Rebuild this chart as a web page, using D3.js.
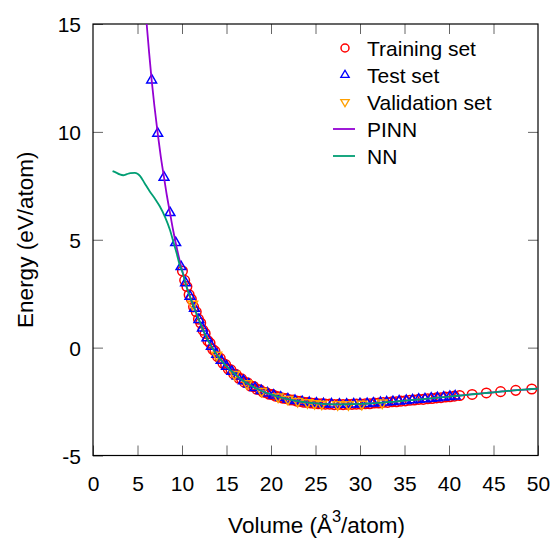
<!DOCTYPE html>
<html>
<head>
<meta charset="utf-8">
<script src="https://cdn.jsdelivr.net/npm/d3@7"></script>
<style>
  html, body { margin: 0; padding: 0; background: #fff; }
  svg { display: block; font-family: "Liberation Sans", Arial, Helvetica, sans-serif; }
</style>
</head>
<body>
<svg id="chart" width="552" height="538"></svg>
<script>
// ---------------- data ----------------
const xTicks = [0, 5, 10, 15, 20, 25, 30, 35, 40, 45, 50];
const yTicks = [-5, 0, 5, 10, 15];

const trainV = [10.05, 10.3, 10.55, 10.8, 11.05, 11.3, 11.6, 11.85, 12.1, 12.35, 12.6, 12.9, 13.15, 13.45, 13.7, 14.0, 14.3, 14.6, 14.9, 15.2, 15.5, 15.8, 16.1, 16.4, 16.7, 17.0, 17.35, 17.7, 18.05, 18.4, 18.75, 19.1, 19.45, 19.8, 20.15, 20.5, 20.9, 21.3, 21.7, 22.1, 22.5, 22.9, 23.3, 23.7, 24.1, 24.5, 24.9, 25.3, 25.7, 26.1, 26.6, 27.1, 27.6, 28.1, 28.6, 29.1, 29.6, 30.1, 30.6, 31.1, 31.6, 32.1, 32.6, 33.1, 33.6, 34.1, 34.6, 35.1, 35.6, 36.1, 36.6, 37.1, 37.6, 38.1, 38.6, 39.1, 39.6, 40.1, 40.6, 41.2, 42.6, 44.2, 45.8, 47.5, 49.3];
const trainE = [3.55, 3.12, 2.83, 2.45, 2.24, 1.89, 1.66, 1.32, 1.14, 0.81, 0.66, 0.32, 0.21, -0.08, -0.16, -0.42, -0.50, -0.73, -0.79, -0.99, -1.03, -1.22, -1.25, -1.42, -1.45, -1.60, -1.63, -1.78, -1.80, -1.93, -1.95, -2.06, -2.08, -2.16, -2.18, -2.25, -2.28, -2.34, -2.36, -2.42, -2.43, -2.48, -2.49, -2.53, -2.54, -2.57, -2.58, -2.60, -2.60, -2.62, -2.62, -2.64, -2.63, -2.64, -2.63, -2.63, -2.62, -2.62, -2.60, -2.60, -2.57, -2.57, -2.54, -2.54, -2.51, -2.51, -2.48, -2.47, -2.44, -2.43, -2.40, -2.40, -2.37, -2.36, -2.33, -2.32, -2.29, -2.28, -2.25, -2.22, -2.17, -2.10, -2.04, -1.98, -1.92];

const testV = [6.59, 7.27, 7.98, 8.65, 9.29, 9.89, 10.4, 10.9, 11.4, 11.9, 12.3, 12.8, 13.3, 13.9, 14.4, 15.0, 15.6, 16.2, 16.9, 17.5, 18.2, 18.9, 19.6, 20.3, 21.1, 21.9, 22.7, 23.5, 24.3, 25.1, 25.9, 26.8, 27.7, 28.5, 29.3, 30.0, 30.8, 31.5, 32.3, 33.0, 33.7, 34.4, 35.2, 35.9, 36.6, 37.3, 38.0, 38.7, 39.4, 40.1, 40.7];
const testE = [12.4, 9.93, 7.89, 6.25, 4.86, 3.75, 3.00, 2.37, 1.82, 1.30, 0.90, 0.45, 0.06, -0.32, -0.59, -0.87, -1.11, -1.32, -1.54, -1.70, -1.86, -2.00, -2.11, -2.21, -2.31, -2.39, -2.46, -2.51, -2.55, -2.58, -2.61, -2.62, -2.63, -2.63, -2.62, -2.61, -2.60, -2.58, -2.55, -2.53, -2.51, -2.48, -2.46, -2.43, -2.40, -2.38, -2.35, -2.33, -2.30, -2.27, -2.25];

const valV = [11.2, 13.9, 15.9, 17.3, 18.95, 20.8, 21.9, 23.0, 24.1, 24.9, 25.7, 27.5, 28.7, 30.2, 32.5];
const valE = [2.02, -0.34, -1.24, -1.66, -2.02, -2.28, -2.39, -2.49, -2.55, -2.59, -2.61, -2.64, -2.64, -2.62, -2.56];

const pinnV = [5.9, 6.03, 6.3, 6.59, 6.9, 7.27, 7.6, 7.98, 8.3, 8.65, 9.0, 9.29, 9.6, 9.96, 10.5, 11.0, 11.5, 12.0, 12.5, 13.0, 13.5, 14.0, 14.5, 15.0, 15.5, 16.0, 16.5, 17.0, 17.5, 18.0, 18.5, 19.0, 19.5, 20.0, 20.5, 21.0, 21.5, 22.0, 22.5, 23.0, 23.5, 24.0, 24.5, 25.0, 25.5, 26.0, 26.5, 27.0, 27.5, 28.0, 29.0, 30.0, 31.0, 32.0, 33.0, 34.0, 35.0, 36.0, 37.0, 38.0, 39.0, 40.0, 41.0, 42.0, 43.0, 44.0, 45.0, 46.0, 47.0, 48.0, 49.0, 50.0];
const pinnE = [15.7, 15.0, 13.7, 12.4, 11.2, 9.93, 8.9, 7.89, 7.05, 6.25, 5.45, 4.86, 4.27, 3.68, 2.85, 2.25, 1.72, 1.20, 0.70, 0.28, -0.08, -0.38, -0.64, -0.87, -1.07, -1.25, -1.42, -1.57, -1.70, -1.82, -1.92, -2.02, -2.10, -2.17, -2.24, -2.30, -2.35, -2.40, -2.44, -2.48, -2.51, -2.54, -2.56, -2.58, -2.60, -2.61, -2.62, -2.63, -2.63, -2.63, -2.62, -2.61, -2.59, -2.56, -2.53, -2.50, -2.46, -2.42, -2.39, -2.35, -2.31, -2.27, -2.23, -2.19, -2.15, -2.11, -2.07, -2.03, -1.99, -1.96, -1.93, -1.90];

const nnV = [2.2, 2.6, 3.0, 3.4, 3.8, 4.2, 4.7, 5.0, 5.3, 5.8, 6.4, 7.0, 7.5, 8.1, 8.65, 9.0, 9.4, 9.78, 10.0, 10.5, 11.0, 11.5, 12.0, 12.5, 13.0, 13.5, 14.0, 14.5, 15.0, 15.5, 16.0, 16.5, 17.0, 17.5, 18.0, 18.5, 19.0, 19.5, 20.0, 20.5, 21.0, 21.5, 22.0, 22.5, 23.0, 23.5, 24.0, 24.5, 25.0, 25.5, 26.0, 26.5, 27.0, 27.5, 28.0, 29.0, 30.0, 31.0, 32.0, 33.0, 34.0, 35.0, 36.0, 37.0, 38.0, 39.0, 40.0, 41.0, 42.0, 43.0, 44.0, 45.0, 46.0, 47.0, 48.0, 49.0, 50.0];
const nnE = [8.18, 8.11, 8.03, 7.99, 8.04, 8.09, 8.10, 8.06, 7.95, 7.62, 7.23, 6.88, 6.55, 6.05, 5.45, 4.95, 4.37, 3.78, 3.56, 2.83, 2.24, 1.71, 1.19, 0.70, 0.28, -0.08, -0.38, -0.64, -0.87, -1.07, -1.25, -1.42, -1.57, -1.70, -1.82, -1.92, -2.02, -2.10, -2.17, -2.24, -2.30, -2.35, -2.40, -2.44, -2.48, -2.51, -2.54, -2.56, -2.58, -2.60, -2.61, -2.62, -2.63, -2.63, -2.63, -2.62, -2.61, -2.59, -2.56, -2.53, -2.50, -2.46, -2.42, -2.39, -2.35, -2.31, -2.27, -2.23, -2.19, -2.15, -2.11, -2.07, -2.03, -1.99, -1.96, -1.93, -1.90];

const legendLabels = ["Training set", "Test set", "Validation set", "PINN", "NN"];

// ---------------- layout ----------------
const colors = { train: "#ff0000", test: "#0000ff", val: "#ffa000", pinn: "#9400d3", nn: "#009e73" };
const L = 93, R = 538, T = 24, B = 455.5;
const x = d3.scaleLinear().domain([0, 50]).range([L, R]);
const y = d3.scaleLinear().domain([-5, 15]).range([B, T]);

const svg = d3.select("#chart");
const FS = 21;
const fmt = d => String(d);

svg.append("defs").append("clipPath").attr("id", "plotclip")
  .append("rect").attr("x", L).attr("y", T).attr("width", R - L).attr("height", B - T);

// axes
function styleAxis(g) {
  g.select(".domain").remove();
  g.selectAll(".tick line").attr("stroke", "#666").attr("stroke-width", 1);
  g.selectAll(".tick text").attr("fill", "#000").attr("font-size", FS)
    .attr("font-family", "'Liberation Sans', Arial, Helvetica, sans-serif");
}
svg.append("g").attr("transform", `translate(0,${B})`)
  .call(d3.axisBottom(x).tickValues(xTicks).tickSize(-10).tickPadding(20.5).tickFormat(fmt))
  .call(styleAxis);
svg.append("g").attr("transform", `translate(0,${T})`)
  .call(d3.axisTop(x).tickValues(xTicks.slice(1, -1)).tickSize(-10).tickFormat(""))
  .call(styleAxis);
const ly = svg.append("g").attr("transform", `translate(${L},0)`)
  .call(d3.axisLeft(y).tickValues(yTicks).tickSize(-10).tickPadding(12).tickFormat(fmt))
  .call(styleAxis);
ly.selectAll(".tick text").attr("dy", "0.36em");
svg.append("g").attr("transform", `translate(${R},0)`)
  .call(d3.axisRight(y).tickValues(yTicks.slice(1, -1)).tickSize(-10).tickFormat(""))
  .call(styleAxis);

// frame
svg.append("rect").attr("x", L).attr("y", T).attr("width", R - L).attr("height", B - T)
  .attr("fill", "none").attr("stroke", "#000").attr("stroke-width", 1.2);

// axis titles
const xl = svg.append("text").attr("x", (L + R) / 2 + 1).attr("y", 533).attr("text-anchor", "middle")
  .attr("font-size", 22.5);
xl.append("tspan").text("Volume (Å");
xl.append("tspan").attr("font-size", 16.5).attr("dy", -11).text("3");
xl.append("tspan").attr("dy", 11).text("/atom)");

svg.append("text").attr("transform", `translate(32.5,${(T + B) / 2}) rotate(-90)`)
  .attr("text-anchor", "middle").attr("font-size", 22.5).text("Energy (eV/atom)");

// markers
const triUp = "M0,-5.6L4.9,2.8L-4.9,2.8Z";
const triDown = "M0,5.6L4.9,-2.8L-4.9,-2.8Z";

const plot = svg.append("g").attr("clip-path", "url(#plotclip)");

const trainData = trainV.map((v, i) => [v, trainE[i]]);
const testData = testV.map((v, i) => [v, testE[i]]);
const valData = valV.map((v, i) => [v, valE[i]]);
const pinnData = pinnV.map((v, i) => [v, pinnE[i]]);
const nnData = nnV.map((v, i) => [v, nnE[i]]);

plot.append("g").selectAll("circle").data(trainData).join("circle")
  .attr("cx", d => x(d[0])).attr("cy", d => y(d[1])).attr("r", 4.8)
  .attr("fill", "none").attr("stroke", colors.train).attr("stroke-width", 1.5);

plot.append("g").selectAll("path").data(testData).join("path")
  .attr("transform", d => `translate(${x(d[0])},${y(d[1])})`).attr("d", triUp)
  .attr("fill", "none").attr("stroke", colors.test).attr("stroke-width", 1.5);

plot.append("g").selectAll("path").data(valData).join("path")
  .attr("transform", d => `translate(${x(d[0])},${y(d[1])})`).attr("d", triDown)
  .attr("fill", "none").attr("stroke", colors.val).attr("stroke-width", 1.5);

const line = d3.line().x(d => x(d[0])).y(d => y(d[1])).curve(d3.curveMonotoneX);
plot.append("path").datum(pinnData).attr("d", line)
  .attr("fill", "none").attr("stroke", colors.pinn).attr("stroke-width", 1.8);
plot.append("path").datum(nnData).attr("d", line)
  .attr("fill", "none").attr("stroke", colors.nn).attr("stroke-width", 1.8);

// legend
const legY = [48, 75, 102, 129, 156];
const leg = svg.append("g");
legendLabels.forEach((lab, i) => {
  const cy = legY[i];
  if (i === 0) {
    leg.append("circle").attr("cx", 345).attr("cy", cy).attr("r", 4)
      .attr("fill", "none").attr("stroke", colors.train).attr("stroke-width", 1.5);
  } else if (i === 1) {
    leg.append("path").attr("transform", `translate(345,${cy}) scale(0.85)`).attr("d", triUp)
      .attr("fill", "none").attr("stroke", colors.test).attr("stroke-width", 1.6);
  } else if (i === 2) {
    leg.append("path").attr("transform", `translate(345,${cy}) scale(0.85)`).attr("d", triDown)
      .attr("fill", "none").attr("stroke", colors.val).attr("stroke-width", 1.6);
  } else {
    leg.append("line").attr("x1", 333).attr("x2", 355).attr("y1", cy).attr("y2", cy)
      .attr("stroke", i === 3 ? colors.pinn : colors.nn).attr("stroke-width", 1.8);
  }
  leg.append("text").attr("x", 367).attr("y", cy + 7.5).attr("font-size", FS).text(lab);
});
</script>
</body>
</html>
